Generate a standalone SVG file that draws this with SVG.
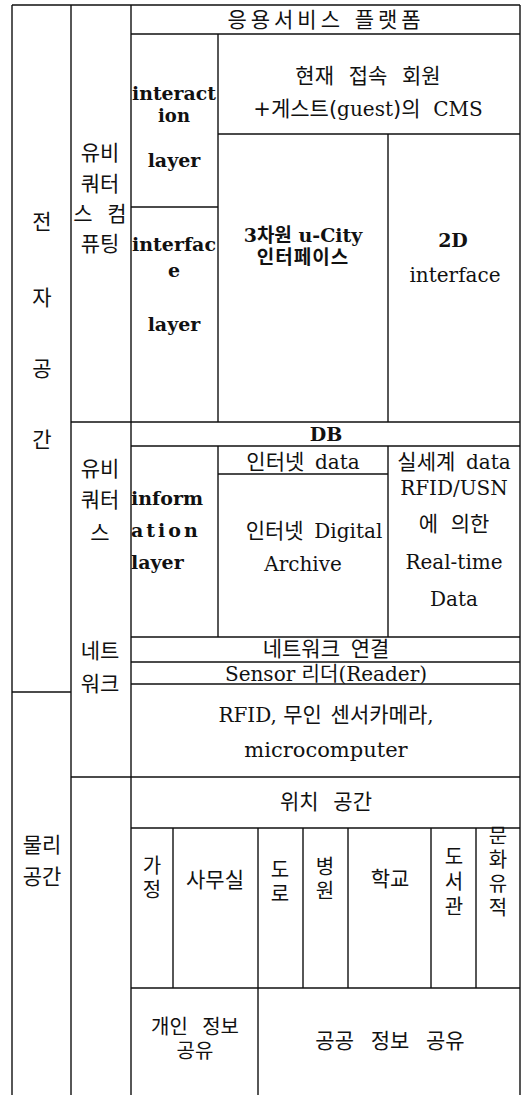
<svg xmlns="http://www.w3.org/2000/svg" width="521" height="1095" viewBox="0 0 521 1095">
<style>
.ln{stroke:#111;stroke-width:1.4;fill:none}
.k{font-family:"DejaVu Sans","Noto Sans CJK KR",sans-serif;font-size:21px;fill:#111;text-anchor:middle}
.s{font-family:"DejaVu Serif","Noto Sans CJK KR",serif;font-size:20px;fill:#111;text-anchor:middle}
.b{font-family:"DejaVu Serif","Noto Sans CJK KR",serif;font-size:19px;font-weight:bold;fill:#111;text-anchor:middle}
.l{text-anchor:start}
.e{font-family:"DejaVu Serif",serif;font-size:20px}
.p{font-size:20px}
.h{font-family:"DejaVu Sans","Noto Sans CJK KR",sans-serif}
</style>
<rect width="521" height="1095" fill="#fff"/>
<g id="grid">
<path class="ln" d="M12 5H520M131 34H520M218 134H520M131 207H218M71 422H520M131 446H520M218 474H388M131 637H520M131 662H520M131 684H520M12 692H71M71 777H520M131 828H520M131 988H520"/>
<path class="ln" d="M12 5V1095M71 5V1095M131 5V1095M218 34V422M218 446V637M388 134V422M388 446V637M520 5V1095M173 828V988M258 828V1095M303 828V988M348 828V988M431 828V988M476 828V988"/>
</g>
<g id="col-electronic">
<text class="k" x="42" y="229">전<tspan x="42" dy="76">자</tspan><tspan x="42" dy="71">공</tspan><tspan x="42" dy="71">간</tspan></text>
</g>
<g id="col-physical">
<text class="k" x="42" y="852">물리<tspan x="42" dy="32">공간</tspan></text>
</g>
<g id="ubiquitous-computing">
<text class="k" x="100" y="160">유비<tspan x="100" dy="31">쿼터</tspan><tspan x="100" dy="30" word-spacing="8">스 컴</tspan><tspan x="100" dy="30">퓨팅</tspan></text>
</g>
<g id="ubiquitous-network">
<text class="k" x="100" y="476">유비<tspan x="100" dy="31">쿼터</tspan><tspan x="100" dy="33">스</tspan></text>
<text class="k" x="100" y="658">네트<tspan x="100" dy="33">워크</tspan></text>
</g>
<g id="platform">
<text class="k" x="326" y="27" letter-spacing="4">응용서비스 플랫폼</text>
</g>
<g id="interaction-layer">
<text class="b" x="174" y="100"><tspan textLength="84" lengthAdjust="spacingAndGlyphs">interact</tspan><tspan x="174" dy="22" font-size="18">ion</tspan><tspan x="174" dy="45">layer</tspan></text>
</g>
<g id="cms">
<text class="k" x="368" y="83" word-spacing="8">현재 접속 회원<tspan x="368" dy="33" word-spacing="6">+게스트(<tspan class="e">guest</tspan>)의 <tspan class="e">CMS</tspan></tspan></text>
</g>
<g id="interface-layer">
<text class="b" x="174" y="251"><tspan textLength="84" lengthAdjust="spacingAndGlyphs">interfac</tspan><tspan x="174" dy="26">e</tspan><tspan x="174" dy="54">layer</tspan></text>
</g>
<g id="ucity-3d">
<text class="b" x="303" y="242" font-size="18">3차원 u-City<tspan x="303" dy="22" letter-spacing="1">인터페이스</tspan></text>
</g>
<g id="interface-2d">
<text class="b" x="453" y="247" font-size="20">2D</text>
<text class="s" x="455" y="282">interface</text>
</g>
<g id="db">
<text class="b" x="326" y="441" font-size="20">DB</text>
</g>
<g id="information-layer">
<text class="b l" x="131" y="505">inform<tspan x="131" dy="32" letter-spacing="3">ation</tspan><tspan x="131" dy="32">layer</tspan></text>
</g>
<g id="internet-data">
<text class="k" x="303" y="469" word-spacing="4">인터넷 <tspan class="e">data</tspan></text>
<text class="k" x="314" y="538" word-spacing="4">인터넷 <tspan class="e">Digital</tspan><tspan class="e" x="303" dy="33">Archive</tspan></text>
</g>
<g id="real-data">
<text class="k" x="454" y="469" word-spacing="4">실세계 <tspan class="e">data</tspan></text>
<text class="s" x="454" y="495">RFID/USN<tspan class="h" x="454" dy="36" font-size="21" word-spacing="6">에 의한</tspan><tspan x="454" dy="38">Real-time</tspan><tspan x="454" dy="37">Data</tspan></text>
</g>
<g id="network">
<text class="k" x="326" y="656" font-size="19" word-spacing="4">네트워크 연결</text>
</g>
<g id="sensor-reader">
<text class="s" x="326" y="681" font-size="19">Sensor <tspan class="h">리더</tspan>(Reader)</text>
</g>
<g id="devices">
<text class="s" x="326" y="722">RFID, <tspan class="h" font-size="21" word-spacing="2">무인 센서카메라</tspan>,<tspan x="326" dy="35" font-size="21">microcomputer</tspan></text>
</g>
<g id="location-space">
<text class="k" x="326" y="809" word-spacing="8">위치 공간</text>
</g>
<g id="home"><text class="k p" x="152" y="873">가<tspan x="152" dy="24">정</tspan></text></g>
<g id="office"><text class="k" x="215" y="887">사무실</text></g>
<g id="road"><text class="k p" x="280" y="877">도<tspan x="280" dy="24">로</tspan></text></g>
<g id="hospital"><text class="k p" x="325" y="874">병<tspan x="325" dy="24">원</tspan></text></g>
<g id="school"><text class="k" x="390" y="886">학교</text></g>
<g id="library"><text class="k p" x="454" y="864">도<tspan x="454" dy="25">서</tspan><tspan x="454" dy="25">관</tspan></text></g>
<g id="heritage"><text class="k p" x="498" y="843">문<tspan x="498" dy="24">화</tspan><tspan x="498" dy="24">유</tspan><tspan x="498" dy="24">적</tspan></text></g>
<g id="private-share">
<text class="k p" x="195" y="1034" word-spacing="8">개인 정보<tspan x="195" dy="24">공유</tspan></text>
</g>
<g id="public-share">
<text class="k" x="390" y="1048" word-spacing="10">공공 정보 공유</text>
</g>
</svg>
